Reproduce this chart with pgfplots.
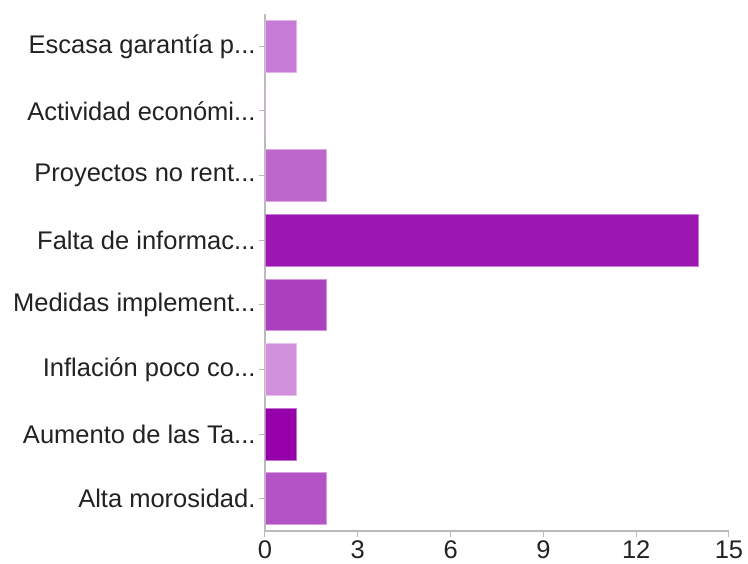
\documentclass[border=0pt]{standalone}
\usepackage{pgfplots}
\pgfplotsset{compat=1.18}
\usepackage{fontspec}
\setmainfont{Liberation Sans}
\newcommand\el{...}
\definecolor{cA}{HTML}{C67BD6}
\definecolor{cB}{HTML}{C67BD6}
\definecolor{cC}{HTML}{BD66CB}
\definecolor{cD}{HTML}{9C17B1}
\definecolor{cE}{HTML}{AB40BF}
\definecolor{cF}{HTML}{D291DC}
\definecolor{cG}{HTML}{9600AB}
\definecolor{cH}{HTML}{B453C6}
\definecolor{axgray}{HTML}{BBBBBB}
\definecolor{txt}{HTML}{222222}
\begin{document}
\begin{tikzpicture}
\begin{axis}[
  scale only axis,
  width=464pt, height=517pt,
  xmin=0, xmax=15,
  ymin=-0.5, ymax=7.5,
  y dir=reverse,
  xbar, bar width=0.8, bar shift=0pt,
  axis x line*=bottom, axis y line*=left,
  axis line style={axgray, line width=1.2pt},
  xtick={0,3,6,9,12,15},
  ytick={0,1,2,3,4,5,6,7},
  yticklabels={{Escasa garantía p\el},{Actividad económi\el},{Proyectos no rent\el},{Falta de informac\el},{Medidas implement\el},{Inflación poco co\el},{Aumento de las Ta\el},{Alta morosidad.}},
  tick align=outside,
  major tick length=6pt,
  tick style={axgray, line width=1pt},
  ticklabel style={font=\fontsize{25.5}{30}\selectfont, text=txt},
  /pgf/number format/assume math mode=true,
  clip=false,
]
\addplot[fill=cA, draw=cA!55!white, line width=0.8pt] coordinates {(1,0)};
\addplot[fill=cB, draw=cB!55!white, line width=0.8pt] coordinates {(0,1)};
\addplot[fill=cC, draw=cC!55!white, line width=0.8pt] coordinates {(2,2)};
\addplot[fill=cD, draw=cD!55!white, line width=0.8pt] coordinates {(14,3)};
\addplot[fill=cE, draw=cE!55!white, line width=0.8pt] coordinates {(2,4)};
\addplot[fill=cF, draw=cF!55!white, line width=0.8pt] coordinates {(1,5)};
\addplot[fill=cG, draw=cG!55!white, line width=0.8pt] coordinates {(1,6)};
\addplot[fill=cH, draw=cH!55!white, line width=0.8pt] coordinates {(2,7)};
\end{axis}
\pgfresetboundingbox
\useasboundingbox (-265pt,-33pt) rectangle (483pt,531pt);
\end{tikzpicture}
\end{document}
